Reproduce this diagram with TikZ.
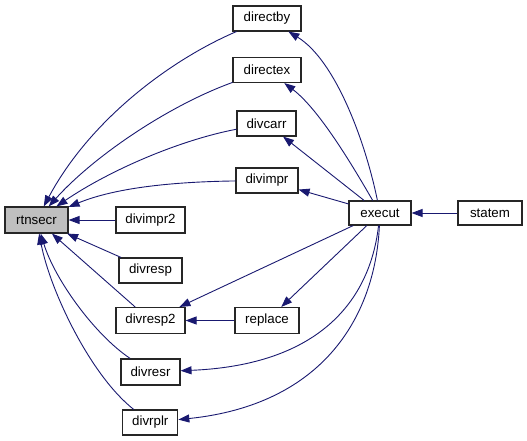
\documentclass[tikz,border=0pt]{standalone}
\usepackage{fontspec}
\setmainfont{Liberation Sans}
\usepackage{tikz}
\usetikzlibrary{arrows.meta}
\definecolor{EdgeBlue}{RGB}{25,25,112}
\definecolor{CurGray}{RGB}{191,191,191}

\tikzset{
	fn/.style={draw=black!85, line width=1.1pt, fill=white, inner sep=0pt,
		minimum height=25pt, font=\fontsize{13.3}{16}\selectfont},
	cur/.style={fn, fill=CurGray},
	call/.style={EdgeBlue, line width=0.9pt, -{Triangle[length=11pt,width=8pt]}}
}

\begin{document}
\begin{tikzpicture}[x=1pt, y=-1pt]
	\useasboundingbox (0,0) rectangle (527,441);
	
	% Funktionen
	\node[cur, minimum width=63pt, minimum height=26pt] (rtnsecr) at (36.5,220) {rtnsecr};
	\node[fn, minimum width=68pt] (directby) at (267,18.5) {directby};
	\node[fn, minimum width=68pt] (directex) at (267,70) {directex};
	\node[fn, minimum width=59pt] (divcarr) at (266.5,123.5) {divcarr};
	\node[fn, minimum width=62pt] (divimpr) at (267,180.5) {divimpr};
	\node[fn, minimum width=69pt, minimum height=26pt] (divimprz) at (150.5,220) {divimpr2};
	\node[fn, minimum width=63pt] (divresp) at (150.5,270.5) {divresp};
	\node[fn, minimum width=69pt, minimum height=26pt] (divrespz) at (150.5,320.5) {divresp2};
	\node[fn, minimum width=64pt, minimum height=26pt] (replace) at (267,320.5) {replace};
	\node[fn, minimum width=59pt, minimum height=26pt] (divresr) at (150.5,372) {divresr};
	\node[fn, minimum width=55pt] (divrplr) at (150.3,422.5) {divrplr};
	\node[fn, minimum width=62pt, minimum height=24pt] (execut) at (380,213) {execut};
	\node[fn, minimum width=64pt, minimum height=24pt] (statem) at (490,213) {statem};
	
	% Aufrufe nach rtnsecr
	\draw[call] (directby) .. controls (170,60) and (90,120) .. (rtnsecr);
	\draw[call] (directex) .. controls (170,105) and (95,155) .. (rtnsecr);
	\draw[call] (divcarr) .. controls (180,140) and (110,170) .. (rtnsecr);
	\draw[call] (divimpr) .. controls (160,182) and (110,190) .. (rtnsecr);
	\draw[call] (divimprz) -- (rtnsecr);
	\draw[call] (divresp) -- (rtnsecr);
	\draw[call] (divrespz) -- (rtnsecr);
	\draw[call] (divresr) .. controls (95,335) and (55,280) .. (rtnsecr);
	\draw[call] (divrplr) .. controls (90,375) and (50,290) .. (rtnsecr);
	
	% Aufrufe aus execut
	\draw[call] (execut) .. controls (365,140) and (335,60) .. (directby);
	\draw[call] (execut) .. controls (355,170) and (320,110) .. (directex);
	\draw[call] (execut) -- (divcarr);
	\draw[call] (execut) -- (divimpr);
	\draw[call] (execut) -- (divrespz);
	\draw[call] (execut) -- (replace);
	\draw[call] (execut) .. controls (370,300) and (320,365) .. (divresr);
	\draw[call] (execut) .. controls (375,320) and (320,405) .. (divrplr);
	\draw[call] (replace) -- (divrespz);
	\draw[call] (statem) -- (execut);
\end{tikzpicture}
\end{document}
